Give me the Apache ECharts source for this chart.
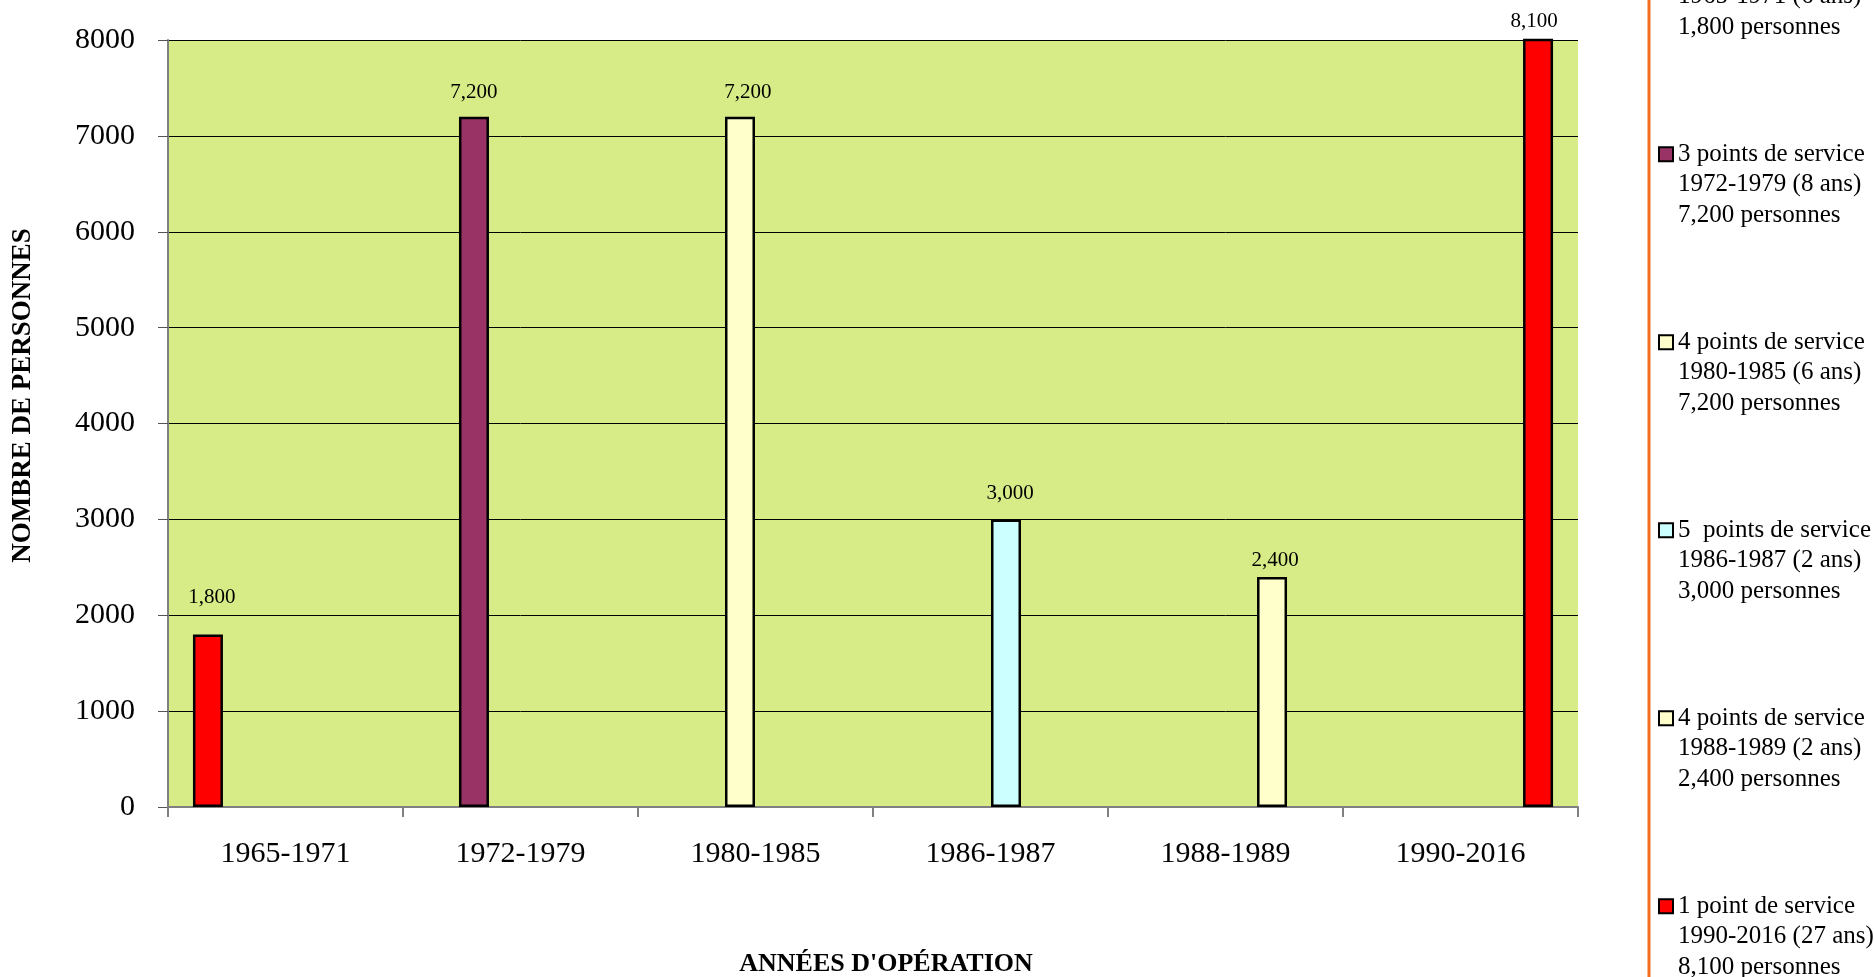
<!DOCTYPE html>
<html>
<head>
<meta charset="utf-8">
<script src="https://cdn.jsdelivr.net/npm/echarts@6/dist/echarts.min.js"></script>
<style>
  html, body { margin: 0; padding: 0; background: #fff; }
  #main { width: 1874px; height: 977px; }
</style>
</head>
<body>
<div id="main"></div>
<script>
// periodes d'operation (axe X)
var categories = ['1965-1971', '1972-1979', '1980-1985', '1986-1987', '1988-1989', '1990-2016'];
// nombre de personnes par periode
var values = [1800, 7200, 7200, 3000, 2400, 8100];
// texte de la legende
var seriesNames = [
    '1 point de service\n1965-1971 (6 ans)\n1,800 personnes',
    '3 points de service\n1972-1979 (8 ans)\n7,200 personnes',
    '4 points de service\n1980-1985 (6 ans)\n7,200 personnes',
    '5  points de service\n1986-1987 (2 ans)\n3,000 personnes',
    '4 points de service\n1988-1989 (2 ans)\n2,400 personnes',
    '1 point de service\n1990-2016 (27 ans)\n8,100 personnes'
];
var yTicks = { min: 0, max: 8000, interval: 1000 };

var barColors = ['#FF0000', '#993366', '#FFFFCC', '#CCFFFF', '#FFFFCC', '#FF0000'];
// petits decalages des etiquettes (comme deplaces a la main dans Excel)
var labelOffsets = [[4, -21], [0, -9], [8, -9], [4, -10], [3, -1], [-4, -2]];

var FONT = 'Liberation Serif';

var myChart = echarts.init(document.getElementById('main'));

var series = seriesNames.map(function (name, i) {
    return {
        name: name,
        type: 'bar',
        barWidth: 30,
        barGap: '3.4%',
        clip: true,
        data: categories.map(function (c, j) { return j === i ? values[i] : '-'; }),
        itemStyle: { color: barColors[i], borderColor: '#000', borderWidth: 2.5 },
        label: {
            show: true,
            position: 'top',
            distance: 5,
            offset: labelOffsets[i],
            fontFamily: FONT,
            fontSize: 21,
            color: '#000',
            formatter: function (p) { return Number(p.value).toLocaleString('en-US'); }
        }
    };
});

var option = {
    animation: false,
    backgroundColor: '#fff',
    textStyle: { fontFamily: FONT },
    grid: {
        left: 168, right: 296, top: 40, bottom: 170,
        outerBoundsMode: 'none',
        containLabel: false,
        show: true,
        backgroundColor: '#D7EB86',
        borderWidth: 0
    },
    legend: {
        orient: 'vertical',
        left: 1658,
        top: -110,
        height: 1400,
        padding: 0,
        itemGap: 35.5,
        itemWidth: 14,
        itemHeight: 14,
        icon: 'rect',
        selectedMode: false,
        itemStyle: { borderColor: '#000', borderWidth: 2 },
        // deux lignes vides en tete: la premiere ligne du texte tombe sur le carre
        formatter: function (name) { return '\n\n' + name; },
        textStyle: {
            fontFamily: FONT,
            fontSize: 25,
            lineHeight: 30.5,
            color: '#000'
        },
        data: seriesNames
    },
    xAxis: {
        type: 'category',
        data: categories,
        name: "ANNÉES D'OPÉRATION",
        nameLocation: 'middle',
        nameGap: 144,
        nameTextStyle: {
            fontFamily: FONT, fontSize: 26, fontWeight: 'bold', color: '#000',
            padding: [0, 0, 0, 26]
        },
        axisLine: { lineStyle: { color: '#808080', width: 2 } },
        axisTick: { show: true, length: 10, alignWithLabel: false, lineStyle: { color: '#808080', width: 2 } },
        axisLabel: { fontFamily: FONT, fontSize: 30, color: '#000', margin: 32 },
        splitLine: { show: false }
    },
    yAxis: {
        type: 'value',
        min: yTicks.min,
        max: yTicks.max,
        interval: yTicks.interval,
        name: 'NOMBRE DE PERSONNES',
        nameLocation: 'middle',
        nameGap: 131,
        nameTextStyle: {
            fontFamily: FONT, fontSize: 27, fontWeight: 'bold', color: '#000',
            padding: [0, 0, 0, 56]
        },
        axisLine: { show: true, lineStyle: { color: '#808080', width: 2 } },
        axisTick: { show: true, length: 10, lineStyle: { color: '#555', width: 1 } },
        axisLabel: {
            fontFamily: FONT, fontSize: 30, color: '#000', margin: 33,
            formatter: function (v) { return String(v); }
        },
        splitLine: { show: true, lineStyle: { color: '#000', width: 1 } }
    },
    graphic: [{
        type: 'line',
        shape: { x1: 1649, y1: 0, x2: 1649, y2: 977 },
        style: { stroke: '#F36C21', lineWidth: 3 },
        silent: true
    }],
    series: series
};

myChart.setOption(option);
</script>
</body>
</html>
